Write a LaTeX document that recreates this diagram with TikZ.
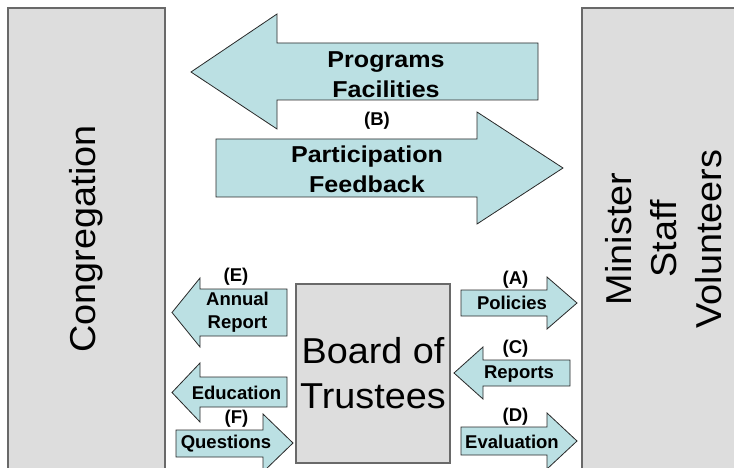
\documentclass[tikz,border=0pt]{standalone}
\usepackage{fontspec}
\setmainfont{Liberation Sans}
\newfontfamily\bigfont[FakeStretch=1.05]{Liberation Sans}
\newfontfamily\headfont[FakeStretch=1.09]{Liberation Sans}
\usepackage{tikz}
\usetikzlibrary{calc}

\definecolor{boxfill}{RGB}{221,221,221}
\definecolor{boxline}{RGB}{105,105,105}
\definecolor{arrowfill}{RGB}{187,224,227}
\definecolor{arrowline}{RGB}{40,40,40}

\begin{document}
\begin{tikzpicture}[x=1pt, y=-1pt,
        box_style/.style={draw=boxline, line width=1.5pt, fill=boxfill, inner sep=0pt},
        arrow_style/.style={draw=arrowline, line width=0.8pt, fill=arrowfill, line join=miter},
        big_text/.style={font=\bigfont\fontsize{36}{45}\selectfont, align=center},
        head_text/.style={font=\headfont\bfseries\fontsize{23}{30}\selectfont, align=center, inner sep=0pt},
        small_text/.style={font=\bfseries\fontsize{18.5}{23}\selectfont, align=center, inner sep=0pt}]

        \clip (0,0) rectangle (734,468);

        \node [box_style,big_text,rotate=90,minimum width=462pt,minimum height=157pt](congregation) at (86.5,239) {Congregation};

        \node [box_style,big_text,rotate=90,minimum width=462pt,minimum height=163pt](staff) at (663.5,239) {Minister\\Staff\\Volunteers};

        \node [box_style,big_text,minimum width=154pt,minimum height=179pt](board) at (373,373.5) {Board of\\Trustees};

        \draw [arrow_style] (191,72) -- (277,14) -- (277,43) -- (538,43) -- (538,100) -- (277,100) -- (277,129) -- cycle;

        \draw [arrow_style] (216,139) -- (477,139) -- (477,112) -- (563,168) -- (477,224) -- (477,197) -- (216,197) -- cycle;

        \draw [arrow_style] (172,312.5) -- (200,278) -- (200,289) -- (287,289) -- (287,336) -- (200,336) -- (200,347) -- cycle;

        \draw [arrow_style] (172,392.5) -- (200,363) -- (200,377) -- (287,377) -- (287,407) -- (200,407) -- (200,422) -- cycle;

        \draw [arrow_style] (176,430) -- (263,430) -- (263,414) -- (293,443) -- (263,472) -- (263,457) -- (176,457) -- cycle;

        \draw [arrow_style] (461,290) -- (547,290) -- (547,277) -- (577,303) -- (547,329) -- (547,316) -- (461,316) -- cycle;

        \draw [arrow_style] (454,373) -- (483,347) -- (483,360) -- (570,360) -- (570,386) -- (483,386) -- (483,399) -- cycle;

        \draw [arrow_style] (461,427) -- (547,427) -- (547,413) -- (577,441) -- (547,469) -- (547,455) -- (461,455) -- cycle;

        \node [head_text](programs) at (386,74.5) {Programs\\Facilities};

        \node [small_text](label_b) at (377,121) {(B)};

        \node [head_text](participation) at (367,169.5) {Participation\\Feedback};

        \node [small_text](label_e) at (236,277) {(E)};

        \node [small_text](annual) at (237.5,312) {Annual\\Report};

        \node [small_text](education) at (236.5,392.5) {Education};

        \node [small_text](label_f) at (236.5,419) {(F)};

        \node [small_text](questions) at (226,443.5) {Questions};

        \node [small_text](label_a) at (515.5,279.5) {(A)};

        \node [small_text](policies) at (512,303) {Policies};

        \node [small_text](label_c) at (515.5,348.5) {(C)};

        \node [small_text](reports) at (519,374) {Reports};

        \node [small_text](label_d) at (515.5,416.5) {(D)};

        \node [small_text](evaluation) at (512,441.5) {Evaluation};

        \end{tikzpicture}
\end{document}
